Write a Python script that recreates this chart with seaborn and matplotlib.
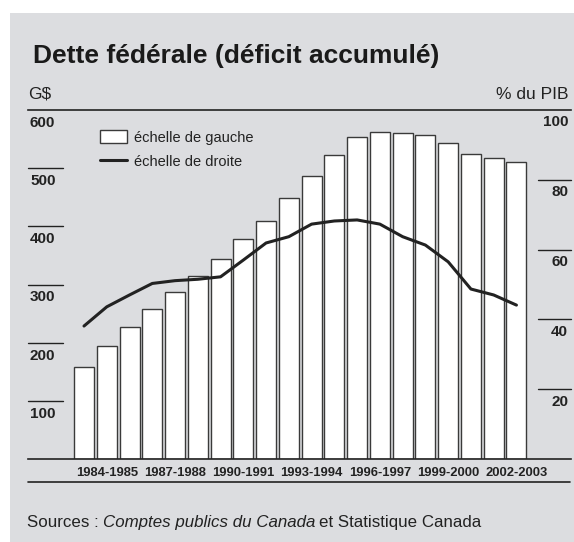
import numpy as np
import pandas as pd
import seaborn as sns
import matplotlib.pyplot as plt
from matplotlib.patches import Patch, Rectangle
from matplotlib.lines import Line2D
import matplotlib.transforms as mtransforms

# Data
years = ['1983-1984', '1984-1985', '1985-1986', '1986-1987', '1987-1988',
         '1988-1989', '1989-1990', '1990-1991', '1991-1992', '1992-1993',
         '1993-1994', '1994-1995', '1995-1996', '1996-1997', '1997-1998',
         '1998-1999', '1999-2000', '2000-2001', '2001-2002', '2002-2003']
debt_gd = [158, 195, 227, 258, 287, 315, 344, 378, 410, 449,
           486, 523, 553, 562, 560, 557, 544, 524, 517, 510]
debt_pct_gdp = [38.1, 43.6, 47.0, 50.3, 51.1, 51.5, 52.2, 57.0, 61.9, 63.7,
                67.3, 68.2, 68.5, 67.3, 63.7, 61.3, 56.5, 48.7, 47.0, 44.1]
left_ticks = [100, 200, 300, 400, 500, 600]
right_ticks = [20, 40, 60, 80, 100]
shown_years = ['1984-1985', '1987-1988', '1990-1991', '1993-1994',
               '1996-1997', '1999-2000', '2002-2003']

df = pd.DataFrame({'annee': years, 'gd': debt_gd, 'pct': debt_pct_gdp})
df['pos'] = np.arange(len(df))

sns.set_style('white')
plt.rcParams['font.family'] = ['Liberation Sans', 'DejaVu Sans']

W, H = 574, 542
fig = plt.figure(figsize=(W / 100, H / 100), dpi=100)
fig.patch.set_facecolor('white')
bg = '#dcdde0'
dark = '#222222'


def px(x, y):
    return x / W, 1 - y / H


# gray panel
fig.patches.append(Rectangle(px(10, 542), (W - 10) / W, (542 - 13) / H,
                             transform=fig.transFigure, facecolor=bg,
                             edgecolor='none', zorder=-5))

ax_left, ax_right, ax_top, ax_bot = 28, 571, 110, 459
ax = fig.add_axes([ax_left / W, 1 - ax_bot / H, (ax_right - ax_left) / W,
                   (ax_bot - ax_top) / H])
ax.set_facecolor('none')

sns.barplot(data=df, x='annee', y='gd', ax=ax, color='white', saturation=1,
            edgecolor='#3a3a3a', linewidth=1.0, width=0.88, zorder=2)
ax.set_ylim(0, 600)
pitch = 22.76
ax.set_xlim(-(84 - ax_left) / pitch, (ax_right - 84) / pitch)

ax2 = ax.twinx()
sns.lineplot(data=df, x='pos', y='pct', ax=ax2, color=dark, linewidth=2.2,
             zorder=3)
ax2.set_ylim(0, 100)
ax2.set_xlim(ax.get_xlim())

for a in (ax, ax2):
    for s in ('left', 'right'):
        a.spines[s].set_visible(False)
    a.set_ylabel('')
    a.set_xlabel('')
    a.set_yticks([])
ax2.spines['top'].set_visible(False)
ax2.spines['bottom'].set_visible(False)
ax.spines['top'].set_color(dark)
ax.spines['bottom'].set_color(dark)
ax.spines['top'].set_linewidth(1.2)
ax.spines['bottom'].set_linewidth(1.2)

idx = [years.index(y) for y in shown_years]
ax.set_xticks(idx)
ax.set_xticklabels(shown_years, fontsize=9.4, fontweight='bold', color='#222222')
ax.tick_params(axis='x', length=0, pad=5.5)

# left scale tick marks and labels (label below the mark)
tl = mtransforms.blended_transform_factory(ax.transAxes, ax.transData)
for v in left_ticks:
    if v < 600:
        ax.plot([0, 35 / 543], [v, v], transform=tl, color=dark, lw=1.0,
                clip_on=False)
    ax.annotate(str(v), xy=(0, v), xycoords=tl, xytext=(2, -17),
                textcoords='offset pixels', ha='left', va='baseline',
                fontsize=11, fontweight='bold', color='#222222')

tr = mtransforms.blended_transform_factory(ax2.transAxes, ax2.transData)
for v in right_ticks:
    if v < 100:
        ax2.plot([1 - 33 / 543, 1], [v, v], transform=tr, color=dark, lw=1.0,
                 clip_on=False)
    ax2.annotate(str(v), xy=(1, v), xycoords=tr, xytext=(-3, -16.5),
                 textcoords='offset pixels', ha='right', va='baseline',
                 fontsize=11, fontweight='bold', color='#222222')

# legend
handles = [Patch(facecolor='white', edgecolor='#3a3a3a', linewidth=1.0),
           Line2D([0], [0], color=dark, linewidth=2.2)]
leg = ax2.legend(handles, ['échelle de gauche', 'échelle de droite'],
                 loc='upper left', bbox_to_anchor=((100 - ax_left) / 543,
                                                   (ax_bot - 130) / 349),
                 frameon=False, fontsize=10.5, borderpad=0, borderaxespad=0,
                 handlelength=1.85, handleheight=1.0, handletextpad=0.5,
                 labelspacing=0.65)
for t in leg.get_texts():
    t.set_color('#222222')

# titles and units
fig.text(*px(33, 63), 'Dette fédérale (déficit accumulé)', fontsize=19,
         fontweight='bold', color='#1a1a1a', va='baseline', ha='left')
fig.text(*px(28, 99), 'G$', fontsize=12.5, color='#222222', va='baseline',
         ha='left')
fig.text(*px(568, 99), '% du PIB', fontsize=12.5, color='#222222',
         va='baseline', ha='right')

# bottom rule
fig.add_artist(Line2D([28 / W, 570 / W], [1 - 482 / H] * 2,
                      transform=fig.transFigure, color=dark, lw=1.2))

# sources line
fs = 12.2
t1 = fig.text(*px(27, 527), 'Sources :', fontsize=fs, color='#222222',
              va='baseline', ha='left')
t2 = fig.text(0, 0, 'Comptes publics du Canada', fontsize=fs,
              style='italic', color='#222222')
t3 = fig.text(0, 0, 'et Statistique Canada', fontsize=fs, color='#222222')
fig.canvas.draw()
r = fig.canvas.get_renderer()
b1 = t1.get_window_extent(r)
t2.set_position(((b1.x1 + 4) / W, 1 - 527 / H))
t2.set_va('baseline')
fig.canvas.draw()
b2 = t2.get_window_extent(r)
t3.set_position(((b2.x1 + 4) / W, 1 - 527 / H))
t3.set_va('baseline')

fig.savefig('out.png', dpi=100, facecolor='white')
